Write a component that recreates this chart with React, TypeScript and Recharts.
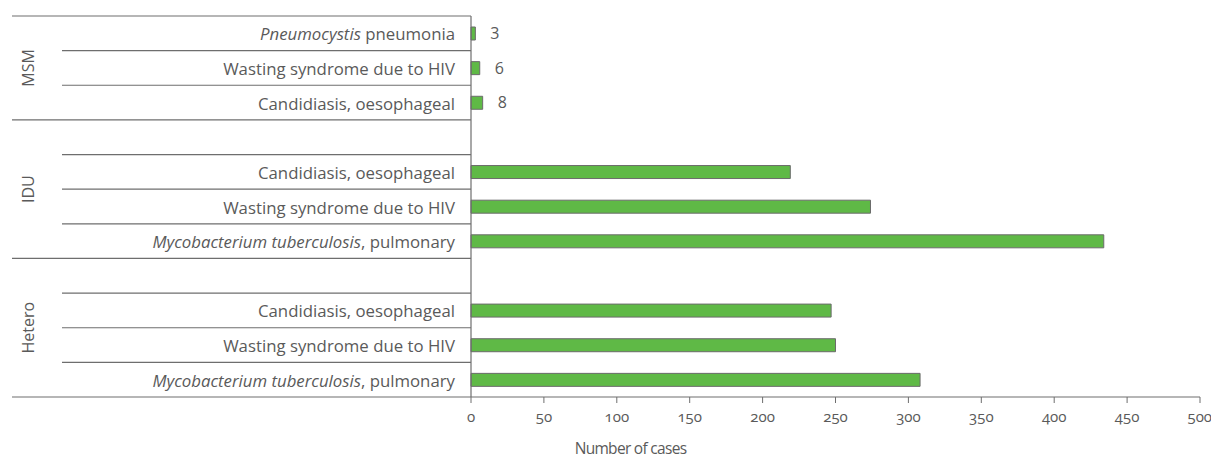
import { BarChart, Bar, XAxis, YAxis, LabelList, Label } from 'recharts';

// rows top to bottom, blank rows keep the gap between groups
const rowKeys = ['msm-pcp', 'msm-wast', 'msm-cand', 'idu-gap', 'idu-cand', 'idu-wast', 'idu-myco', 'het-gap', 'het-cand', 'het-wast', 'het-myco'];
const rowGroups = ['MSM', 'MSM', 'MSM', 'IDU', 'IDU', 'IDU', 'IDU', 'Hetero', 'Hetero', 'Hetero', 'Hetero'];
const rowItalic = ['Pneumocystis', '', '', '', '', '', 'Mycobacterium tuberculosis', '', '', '', 'Mycobacterium tuberculosis'];
const rowText = [' pneumonia', 'Wasting syndrome due to HIV', 'Candidiasis, oesophageal', '', 'Candidiasis, oesophageal', 'Wasting syndrome due to HIV', ', pulmonary', '', 'Candidiasis, oesophageal', 'Wasting syndrome due to HIV', ', pulmonary'];
const rowValues = [3, 6, 8, null, 219, 274, 434, null, 247, 250, 308];
const shownValues = [3, 6, 8, null, null, null, null, null, null, null, null];
const xTicks = [0, 50, 100, 150, 200, 250, 300, 350, 400, 450, 500];

const data = rowKeys.map((key, i) => ({
  key,
  value: rowValues[i],
  shown: shownValues[i],
}));

const FONT = '"Open Sans", "Noto Sans", sans-serif';
const TEXT = '#5a5a5a';
const LINE = '#6e6e6e';
const GAP = 16;

const RowTick = (props: any) => {
  const { x, y, payload } = props;
  const i = rowKeys.indexOf(payload.value);
  const half = payload.offset || 17;
  const axisX = x + GAP;
  const group = rowGroups[i];
  const last = i === rowGroups.length - 1 || rowGroups[i + 1] !== group;
  const first = i === 0 || rowGroups[i - 1] !== group;
  const count = rowGroups.filter((g) => g === group).length;
  const groupMid = y - half + count * half;
  return (
    <g>
      {i === 0 && <line x1={12} x2={axisX} y1={y - half} y2={y - half} stroke={LINE} strokeWidth={1.2} />}
      <line x1={last ? 12 : 62} x2={axisX} y1={y + half} y2={y + half} stroke={LINE} strokeWidth={1.2} />
      <text x={x} y={y} textAnchor="end" dominantBaseline="central" fill={TEXT} fontSize={16.8} fontFamily={FONT} style={{ whiteSpace: 'pre' }}>
        {rowItalic[i] && <tspan fontStyle="italic">{rowItalic[i]}</tspan>}
        <tspan>{rowText[i]}</tspan>
      </text>
      {first && (
        <text x={28} y={groupMid} textAnchor="middle" dominantBaseline="central" fill={TEXT} fontSize={16} fontFamily={FONT} transform={`rotate(-90 28 ${groupMid})`}>
          {group}
        </text>
      )}
    </g>
  );
};

export default function App() {
  return (
    <div style={{ position: 'absolute', left: 0, top: 0, background: '#fff' }}>
      <BarChart width={1211} height={458} data={data} layout="vertical" margin={{ top: 16, right: 11, bottom: 1, left: 0 }} barCategoryGap={0}>
        <YAxis
          type="category"
          dataKey="key"
          width={471}
          tickSize={0}
          tickMargin={GAP}
          tickLine={false}
          axisLine={{ stroke: LINE, strokeWidth: 1.2 }}
          tick={<RowTick />}
          interval={0}
        />
        <XAxis
          type="number"
          domain={[0, 500]}
          ticks={xTicks}
          height={60}
          tickSize={6}
          tickMargin={8}
          axisLine={{ stroke: LINE, strokeWidth: 1.2 }}
          tickLine={{ stroke: LINE }}
          tick={{ fill: TEXT, fontSize: 15, fontFamily: FONT, style: { fontVariantNumeric: 'oldstyle-nums' } }}
        >
          <Label value="Number of cases" position="insideBottom" offset={3} dx={-205} fill={TEXT} fontSize={15.5} fontFamily={FONT} letterSpacing={-0.7} />
        </XAxis>
        <Bar dataKey="value" barSize={13} fill="#5fb946" stroke="#6b6b6b" strokeWidth={1} isAnimationActive={false}>
          <LabelList dataKey="shown" position="right" offset={15} fill={TEXT} fontSize={16} fontFamily={FONT} />
        </Bar>
      </BarChart>
    </div>
  );
}
